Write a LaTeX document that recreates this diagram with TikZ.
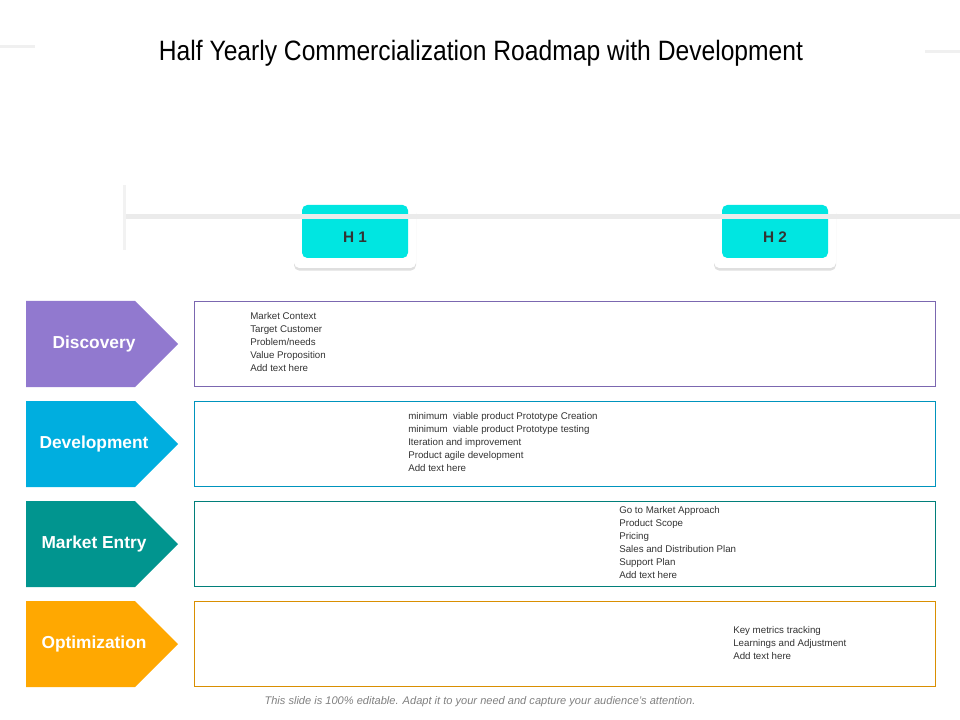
\documentclass[tikz,border=0pt]{standalone}
\usepackage{fontspec}
\setmainfont{Liberation Sans}
\usetikzlibrary{shadows}
\definecolor{discol}{HTML}{9179CF}
\definecolor{devcol}{HTML}{00AEDF}
\definecolor{mktcol}{HTML}{01958F}
\definecolor{optcol}{HTML}{FFA801}
\definecolor{hcol}{HTML}{00E6E1}
\tikzset{
  stage/.style={font=\bfseries\fontsize{13}{15}\selectfont, text=white},
  rowbox/.style={draw, line width=0.6pt},
  notes/.style={font=\fontsize{7.3}{9.75}\selectfont, text=black!80, align=left, anchor=north west, inner sep=0pt},
  halfbox/.style={fill=white, rounded corners=4pt, drop shadow={opacity=0.25, shadow xshift=0pt, shadow yshift=-2pt}},
}
\begin{document}
\begin{tikzpicture}[x=0.75pt,y=-0.75pt]
\useasboundingbox (0,0) rectangle (960,720);

\node (title) at (481,53) {\fontsize{21}{25}\selectfont\addfontfeature{FakeStretch=0.88}Half Yearly Commercialization Roadmap with Development};

% timeline
\fill[black!8] (124,214) rectangle (960,219);
\fill[black!5] (123,185) rectangle (126,250);
\fill[black!6] (0,45) rectangle (35,48);
\fill[black!6] (925,50) rectangle (960,53);

% half-year markers
\foreach \name/\lab/\x in {h1/H 1/355, h2/H 2/775} {
  \fill[halfbox] (\x-61,205) rectangle (\x+61,268);
  \fill[hcol, rounded corners=4pt] (\x-53,205) rectangle (\x+53,258);
  \fill[black!8] (\x-70,214) rectangle (\x+70,219);
  \node[font=\bfseries\fontsize{11.5}{13}\selectfont, text=black!80] (\name) at (\x,237) {\lab};
}

% stages
\foreach \name/\lab/\col/\y in {dis/Discovery/discol/301, dev/Development/devcol/401, mkt/Market Entry/mktcol/501, opt/Optimization/optcol/601} {
  \fill[\col] (26,\y) -- (135,\y) -- (178,\y+43) -- (135,\y+86) -- (26,\y+86) -- cycle;
  \node[stage] (\name) at (94,\y+43) {\lab};
  \draw[rowbox, \col!85!black] (194,\y) rectangle (935,\y+85);
}

\node[notes] (disnotes) at (250,312) {Market Context\\Target Customer\\Problem/needs\\Value Proposition\\Add text here};
\node[notes] (devnotes) at (408,412) {minimum\ \ viable product Prototype Creation\\minimum\ \ viable product Prototype testing\\Iteration and improvement\\Product agile development\\Add text here};
\node[notes] (mktnotes) at (619,506) {Go to Market Approach\\Product Scope\\Pricing\\Sales and Distribution Plan\\Support Plan\\Add text here};
\node[notes] (optnotes) at (733,626) {Key metrics tracking\\Learnings and Adjustment\\Add text here};

\node[font=\itshape\fontsize{8.3}{10}\selectfont, text=black!50] (footer) at (480,702) {This slide is 100\% editable. Adapt it to your need and capture your audience’s attention.};
\end{tikzpicture}
\end{document}
